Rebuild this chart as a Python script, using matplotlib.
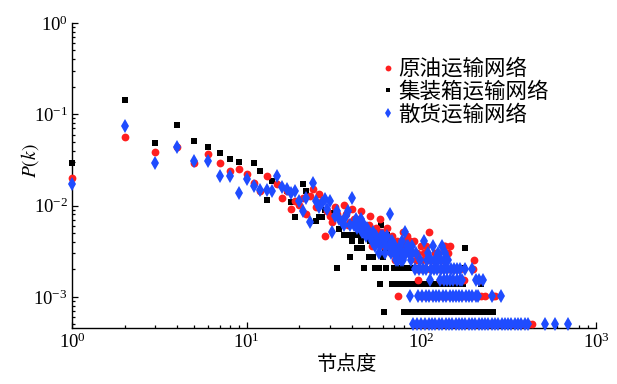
import numpy as np
import matplotlib
matplotlib.use('Agg')
import matplotlib.pyplot as plt
from matplotlib.lines import Line2D

plt.rcParams['font.family'] = ['Liberation Serif', 'DejaVu Sans']
plt.rcParams['mathtext.fontset'] = 'stix'

# number of nodes in each network (P(k) = count / total)
total_oil = 1960
total_box = 1460
total_bulk = 1960

# crude oil network: (degree, node count) for the scattered part
oil_pts = [(1, 39), (2, 111), (3, 76), (4, 85), (5, 58), (6, 72), (7, 57), (8, 47),
           (9, 49), (10, 44), (11, 35), (12, 28), (13, 41), (15, 34), (16, 24),
           (17, 28), (18, 18), (19, 22), (20, 20), (21, 24), (22, 16), (23, 25),
           (24, 30), (25, 19), (26, 26), (27, 22), (28, 9), (29, 17), (30, 15),
           (31, 13), (32, 19), (33, 16), (35, 14), (36, 20), (37, 16), (38, 12),
           (39, 13), (40, 18), (41, 14), (42, 13), (43, 11), (44, 14), (45, 17),
           (46, 11), (47, 12), (48, 10), (49, 11), (50, 12), (51, 15), (52, 7),
           (53, 10), (54, 9), (55, 11), (56, 9), (57, 8), (58, 14), (59, 10),
           (60, 8), (61, 7), (62, 9), (63, 8), (64, 11), (65, 7), (66, 8), (67, 6),
           (68, 9), (69, 6), (70, 7), (71, 5), (72, 6), (73, 8), (75, 5), (76, 7),
           (77, 6), (78, 8), (79, 10), (80, 6), (82, 7), (83, 9), (84, 6), (86, 8),
           (88, 6), (90, 6), (93, 5), (95, 6), (107, 7), (110, 10), (136, 7)]
# degrees sitting on the low count levels (count: degrees)
oil_rows = {
    1: [92, 97, 102, 106, 111, 115, 121, 126, 131, 137, 143, 149, 155, 161, 168,
        175, 182, 190, 198, 206, 215, 224, 233, 243, 253, 264, 275, 287, 299, 311,
        324, 338, 352, 367, 382, 398, 414, 428],
    2: [74, 98, 103, 108, 113, 118, 124, 129, 135, 141, 147, 153, 159, 166, 173,
        180, 188, 196, 204, 212, 221, 232, 258, 263],
    3: [96, 128, 133, 139, 145, 151, 157, 163, 169, 175, 210, 216],
    4: [94, 100, 105, 112, 117, 122, 127, 132, 138, 144, 150, 156, 162, 167, 198],
    5: [101, 109, 114, 120, 130, 200],
    6: [87, 104, 119, 125, 142],
    7: [85, 99, 134, 146],
    8: [81, 91],
}

# container network
box_pts = [(1, 43), (2, 209), (3, 71), (4, 112), (5, 75), (6, 64), (7, 55), (8, 47),
           (9, 44), (11, 43), (12, 35), (13, 17), (14, 27), (17, 21), (18, 16),
           (19, 11), (21, 25), (22, 21), (25, 10), (26, 11), (27, 11), (28, 13),
           (30, 12), (32, 12)]
box_rows = {
    1: [61, 80, 83, 87, 91, 95, 99, 103, 107, 111, 115, 119, 125, 130, 135, 140,
        145, 150, 155, 160, 165, 170, 176, 182, 188, 194, 200, 207, 213, 219, 226,
        232, 239, 257],
    2: [58, 68, 71, 74, 78, 82, 86, 90, 94, 98, 102, 106, 110, 114, 117, 123, 128,
        132, 137, 142, 147, 152, 157, 162, 167, 173, 221],
    3: [33, 47, 54, 57, 63, 70, 73, 76, 79, 84, 88, 92, 175],
    4: [39, 50, 53, 60, 72, 75],
    5: [43, 46, 62, 66, 69, 81, 178],
    6: [40, 45, 51, 67],
    7: [36, 38, 41, 44, 64],
    8: [34, 56],
    9: [59],
}

# bulk cargo network
bulk_pts = [(1, 34), (2, 146), (3, 57), (4, 85), (5, 61), (6, 60), (7, 41), (8, 41),
            (9, 27), (10, 38), (11, 32), (12, 29), (13, 29), (14, 28), (15, 41),
            (16, 31), (17, 30), (18, 27), (19, 28), (20, 22), (21, 17), (22, 24),
            (23, 13), (24, 35), (25, 22), (26, 19), (27, 21), (28, 23), (29, 18),
            (30, 22), (31, 10), (32, 15), (33, 17), (34, 14), (35, 13), (36, 12),
            (37, 15), (38, 17), (39, 12), (40, 24), (41, 12), (42, 14), (43, 11),
            (44, 12), (45, 14), (46, 10), (47, 12), (48, 9), (49, 11), (50, 10),
            (51, 9), (52, 8), (53, 10), (54, 7), (55, 9), (56, 8), (57, 6), (58, 7),
            (59, 9), (60, 9), (61, 8), (62, 6), (63, 7), (64, 9), (65, 7), (66, 16),
            (67, 6), (68, 8), (69, 7), (70, 6), (71, 7), (72, 5), (73, 6), (75, 7),
            (76, 5), (77, 6), (78, 8), (79, 5), (80, 6), (81, 10), (83, 7), (85, 6),
            (87, 5), (89, 6), (104, 8)]
bulk_rows = {
    1: [90, 95, 100, 105, 110, 115, 120, 126, 132, 138, 144, 150, 157, 164, 171,
        179, 187, 195, 204, 213, 222, 232, 242, 253, 264, 276, 288, 301, 314, 328,
        342, 357, 373, 390, 408, 510, 580, 690],
    2: [86, 96, 101, 106, 111, 116, 121, 127, 133, 139, 145, 151, 158, 165, 172,
        180, 188, 196, 205, 211, 253, 284],
    3: [112, 128, 134, 140, 146, 152, 159, 166, 170, 206, 214, 226],
    4: [92, 97, 102, 107, 113, 118, 123, 129, 135, 141, 147, 153, 160, 167, 178, 194],
    5: [74, 98, 108, 114, 119, 124, 130, 136, 142],
    6: [82, 93, 109, 125, 137],
    7: [84, 88, 117, 131],
}


def degree_dist(pts, rows, total):
    k = [p[0] for p in pts]
    cnt = [p[1] for p in pts]
    for c, ks in rows.items():
        k += ks
        cnt += [c] * len(ks)
    return np.array(k), np.array(cnt) / total


k_oil, p_oil = degree_dist(oil_pts, oil_rows, total_oil)
k_box, p_box = degree_dist(box_pts, box_rows, total_box)
k_bulk, p_bulk = degree_dist(bulk_pts, bulk_rows, total_bulk)

fig = plt.figure(figsize=(6.17, 3.84), dpi=100)
ax = fig.add_axes([72 / 617, 1 - 328 / 384, 524 / 617, 305 / 384])

ax.plot(k_box, p_box, 's', color='black', ms=4.6, mew=0, zorder=3, clip_on=False)
ax.plot(k_oil, p_oil, 'o', color='#ff1f1f', ms=5.6, mew=0, zorder=4, clip_on=False)
ax.plot(k_bulk, p_bulk, 'd', color='#1f4cff', ms=6.9, mew=0, zorder=5, clip_on=False)

ax.set_xscale('log')
ax.set_yscale('log')
ax.set_xlim(1, 1000)
ax.set_ylim(4.56e-4, 1)

ax.spines['top'].set_visible(False)
ax.spines['right'].set_visible(False)
for s in ['left', 'bottom']:
    ax.spines[s].set_linewidth(1.0)
ax.tick_params(which='both', direction='in', top=False, right=False, width=0.9)
ax.tick_params(which='major', length=4.3, labelsize=13.5, pad=3)
ax.tick_params(which='minor', length=2.3)

ax.text(-0.08, 0.548, '$P(k)$', transform=ax.transAxes, rotation=90,
        ha='center', va='center', fontsize=14)
ax.text(0.525, -0.12, '节点度', transform=ax.transAxes, ha='center', va='center',
        fontsize=14.5, family=['Noto Sans CJK SC'])

handles = [
    Line2D([], [], ls='none', marker='o', color='#ff1f1f', ms=4.2, mew=0),
    Line2D([], [], ls='none', marker='s', color='black', ms=3.4, mew=0),
    Line2D([], [], ls='none', marker='d', color='#1f4cff', ms=5.2, mew=0),
]
labels = ['原油运输网络', '集装箱运输网络', '散货运输网络']
ax.legend(handles, labels, loc='upper left', bbox_to_anchor=(0.59, 0.885),
          frameon=False, prop={'family': 'Noto Sans CJK SC', 'size': 15.5},
          handlelength=0.6, handletextpad=0.2, labelspacing=0.03,
          borderpad=0, borderaxespad=0)

fig.savefig('out.png', dpi=100)
